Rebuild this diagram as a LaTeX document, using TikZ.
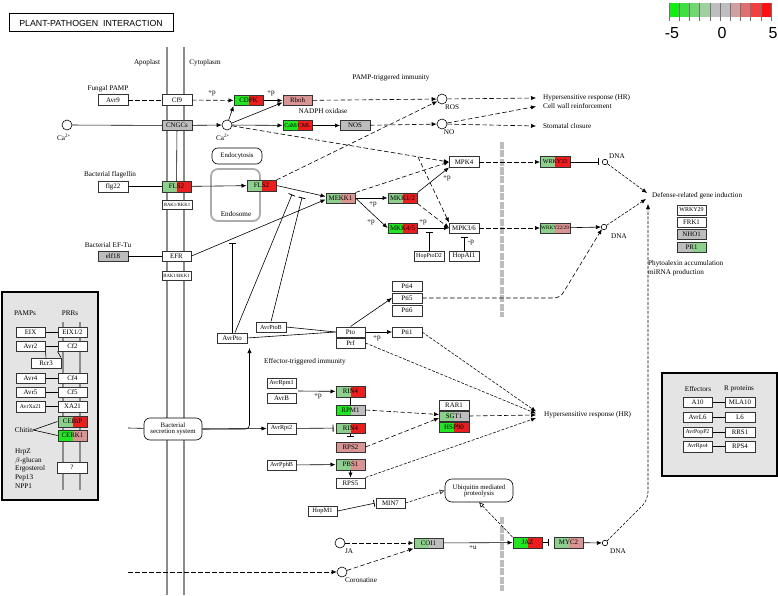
\documentclass[tikz,border=0pt]{standalone}
\usepackage{fontspec}
\setmainfont{Liberation Serif}
\newfontfamily\lsans{Liberation Sans}
\usetikzlibrary{arrows.meta}
\newcommand{\myfs}[1]{\fontsize{#1}{#1}\selectfont}
\definecolor{gA}{HTML}{22E622}
\definecolor{gB}{HTML}{8DCF8D}
\definecolor{rA}{HTML}{EA1E1E}
\definecolor{rB}{HTML}{D99494}
\definecolor{gy}{HTML}{BDBDBD}
\definecolor{mem}{HTML}{8C8C8C}
\definecolor{boxbg}{HTML}{E4E4E4}
\definecolor{lg0}{HTML}{10F010}
\definecolor{lg1}{HTML}{40E040}
\definecolor{lg2}{HTML}{70D870}
\definecolor{lg3}{HTML}{A0D0A0}
\definecolor{lg4}{HTML}{BEBEBE}
\definecolor{lg5}{HTML}{BEBEBE}
\definecolor{lg6}{HTML}{D0A0A0}
\definecolor{lg7}{HTML}{E07070}
\definecolor{lg8}{HTML}{F04040}
\definecolor{lg9}{HTML}{FF1010}
\begin{document}
\begin{tikzpicture}[x=1pt,y=-1pt,
  gene/.style={draw=black!80, line width=0.5pt, fill=white, minimum width=29.5pt, minimum height=10.5pt, inner sep=0pt, font=\myfs{6.9}},
  sm/.style={font=\myfs{5.8}},
  xs/.style={font=\myfs{4.8}},
  two/.style 2 args={path picture={
     \fill[#1] (path picture bounding box.south west) rectangle (path picture bounding box.north);
     \fill[#2] (path picture bounding box.south) rectangle (path picture bounding box.north east);}},
  txt/.style={inner sep=0pt, font=\myfs{7.2}},
  cpd/.style={circle, draw, fill=white, minimum size=10pt, inner sep=0pt, line width=0.6pt},
  dna/.style={circle, draw, fill=white, minimum size=5.5pt, inner sep=0pt, line width=0.6pt},
  ln/.style={line width=0.6pt},
  dsh/.style={line width=0.6pt, dash pattern=on 4.5pt off 2.5pt},
  fdsh/.style={line width=0.55pt, dash pattern=on 3pt off 1.5pt},
  arr/.style={-{Latex[length=5pt,width=4.2pt]}},
  inh/.style={-{Bar[width=7pt,line width=0.8pt]}},
  oarr/.style={-{Latex[open,length=5pt,width=5pt]}},
  memb/.style={line width=2.7pt, draw=mem},
  nucm/.style={line width=4pt, draw=gy, dash pattern=on 7pt off 1.5pt},
  rbox/.style={draw, line width=0.6pt, fill=white, rounded corners=6pt, inner sep=1pt, align=center, font=\myfs{6.8}}
]
\useasboundingbox (0,0) rectangle (778,596);

% legend
\foreach \i in {0,...,9} {\fill[lg\i] ({669+\i*10.2},3) rectangle ({669+(\i+1)*10.2},17);}
\foreach \i in {0,...,10} {\draw[black!55, line width=0.4pt] ({669+\i*10.2},3) -- ({669+\i*10.2},21);}
\node[inner sep=0pt, font=\lsans\myfs{16}] (lm5) at (672,33) {-5};
\node[inner sep=0pt, font=\lsans\myfs{16}] (l0) at (722,33) {0};
\node[inner sep=0pt, font=\lsans\myfs{16}] (l5) at (773,33) {5};

% title
\node[draw, line width=1pt, minimum width=164pt, minimum height=18pt, inner sep=0pt, font=\lsans\myfs{8.8}] (title) at (91,23) {PLANT-PATHOGEN~~INTERACTION};

% membranes
\draw[memb] (167,47) -- (167,595);
\draw[memb] (184,47) -- (184,595);
\node[txt] at (147,63) {Apoplast};
\node[txt] at (205,63) {Cytoplasm};

% nuclear membrane
\draw[nucm] (502,142) -- (502,317);
\draw[nucm] (502,517) -- (502,591);

% left box
\fill[boxbg] (2,292) rectangle (98,500);
\draw[line width=1.4pt] (2,292) rectangle (98,500);
\draw[memb, line width=2.4pt] (63,322) -- (63,490);
\draw[memb, line width=2.4pt] (80,322) -- (80,490);
\node[txt] at (25,313) {PAMPs};
\node[txt] at (70,313) {PRRs};
\node[gene] (eix) at (30.5,332) {EIX};
\node[gene] (eix12) at (72.5,332) {EIX1/2};
\node[gene] (avr2) at (30.5,346) {Avr2};
\node[gene] (cf2) at (72.5,346) {Cf2};
\node[gene] (rcr3) at (46,363) {Rcr3};
\node[gene] (avr4) at (30.5,378) {Avr4};
\node[gene] (cf4) at (72.5,378) {Cf4};
\node[gene] (avr5) at (30.5,392) {Avr5};
\node[gene] (cf5) at (72.5,392) {Cf5};
\node[gene,sm] (avrxa) at (30.5,406.5) {AvrXa21};
\node[gene] (xa21) at (72.5,406.5) {XA21};
\node[gene,two={gB}{rA}] (cebip) at (72.5,421.5) {CEBiP};
\node[gene,two={gA}{rB}] (cerk1) at (72.5,435.5) {CERK1};
\node[txt] (chitin) at (24,430) {Chitin};
\node[gene] (qbox) at (72,467.5) {?};
\node[txt,anchor=west] at (15,452) {HrpZ};
\node[txt,anchor=west] at (15,460.5) {$\beta$-glucan};
\node[txt,anchor=west] at (15,469) {Ergosterol};
\node[txt,anchor=west] at (15,477.5) {Pep13};
\node[txt,anchor=west] at (15,486) {NPP1};
\draw[ln] (eix) -- (eix12);
\draw[ln] (avr2) -- (cf2);
\draw[ln] (avr2.south east) -- (rcr3.north);
\draw[ln] (cf2.south west) -- (rcr3.north east);
\draw[ln] (avr4) -- (cf4);
\draw[ln] (avr5) -- (cf5);
\draw[ln] (avrxa) -- (xa21);
\draw[ln] (chitin.east) -- (cebip.west);
\draw[ln] (chitin.east) -- (cerk1.west);

% right box
\fill[boxbg] (662,373) rectangle (777,476);
\draw[line width=1.4pt] (662,373) rectangle (777,476);
\node[txt] at (698,389) {Effectors};
\node[txt] at (739,389) {R proteins};
\node[gene] (a10) at (697.5,402) {A10};
\node[gene] (mla10) at (740,402) {MLA10};
\node[gene] (avrl6) at (697.5,417) {AvrL6};
\node[gene] (l6) at (740,417) {L6};
\node[gene,sm] (avrpop) at (697.5,432) {AvrPopP2};
\node[gene] (rrs1) at (740,432) {RRS1};
\node[gene,sm] (avrrps4) at (697.5,446.5) {AvrRps4};
\node[gene] (rps4) at (740,446.5) {RPS4};
\draw[ln] (a10) -- (mla10);
\draw[ln] (avrl6) -- (l6);
\draw[ln] (avrpop) -- (rrs1);
\draw[ln] (avrrps4) -- (rps4);

% top part
\node[txt] at (108,89) {Fungal PAMP};
\node[gene] (avr9) at (113,100) {Avr9};
\node[gene] (cf9) at (177,100) {Cf9};
\node[gene,two={gA}{rA}] (cdpk) at (248.5,100.5) {CDPK};
\node[gene,fill=rB] (rboh) at (297.5,100.5) {Rboh};
\node[txt] at (212,93) {+p};
\node[txt] at (271,93) {+p};
\node[cpd] (ca1) at (67,125) {};
\node[txt] at (64,137) {Ca\textsuperscript{2+}};
\node[gene,fill=gy] (cngc) at (177,125.5) {CNGCs};
\node[cpd] (ca2) at (227,125) {};
\node[txt] at (223,137) {Ca\textsuperscript{2+}};
\node[gene,two={gA}{rA},font=\myfs{5.9}] (cam) at (297.5,125.5) {CaM/CML};
\node[gene,fill=gy] (nos) at (355,125.5) {NOS};
\node[txt] at (323,111) {NADPH oxidase};
\node[txt] at (391,78) {PAMP-triggered immunity};
\node[cpd] (ros) at (442,99) {};
\node[txt] at (452,107) {ROS};
\node[cpd] (no) at (442,124) {};
\node[txt] at (449,132) {NO};
\node[txt,anchor=west] (hr1) at (543,98) {Hypersensitive response (HR)};
\node[txt,anchor=west] (cwr) at (543,106.5) {Cell wall reinforcement};
\node[txt,anchor=west] (stc) at (543,126) {Stomatal closure};

\draw[dsh] (avr9) -- (cf9);
\draw[dsh,arr] (cf9) -- (cdpk);
\draw[ln] (ca1) -- (cngc);
\draw[ln,arr] (cngc) -- (ca2);
\draw[ln,arr] (ca2) -- (cdpk.south west);
\draw[ln,arr] (ca2) -- ([yshift=-2pt]rboh.west);
\draw[ln,arr] (cdpk) -- (rboh);
\draw[ln,arr] (ca2) -- (cam);
\draw[ln,arr] (cam) -- (nos);
\draw[dsh,arr] (rboh) -- (ros);
\draw[dsh,arr] (nos) -- (no);
\draw[dsh,arr] (ros) -- ([xshift=-7pt]hr1.west);
\draw[dsh,arr] (no) -- ([xshift=-7pt]cwr.west);
\draw[dsh,arr] (no) -- ([xshift=-7pt]stc.west);

% flagellin
\node[rbox,minimum width=50pt,minimum height=16pt] (endo) at (237,156) {Endocytosis};
\node[draw=gray!65, line width=1.8pt, rounded corners=7pt, minimum width=49pt, minimum height=52pt] (endsm) at (235.5,195) {};
\node[txt] at (236,214) {Endosome};
\node[txt] at (110,175) {Bacterial flagellin};
\node[gene] (flg22) at (113,186.5) {flg22};
\node[gene,two={gB}{rA}] (fls2a) at (176.5,186.5) {FLS2};
\node[gene,two={gB}{rA}] (fls2b) at (261.5,185.5) {FLS2};
\node[gene,xs,minimum height=9pt] (bak1) at (177,205) {BAK1/BKK1};
\draw[ln] (cngc) -- (fls2a);
\draw[ln] (flg22) -- (fls2a);
\draw[ln,arr] (fls2a) -- (fls2b);

\node[txt] at (108,245) {Bacterial EF-Tu};
\node[gene,fill=gy] (elf18) at (113,256) {elf18};
\node[gene] (efr) at (176.5,256) {EFR};
\node[gene,xs,minimum height=9pt] (bak2) at (176.5,275.5) {BAK1/BKK1};
\draw[ln] (elf18) -- (efr);

% MAPK cascade
\node[gene,two={gB}{rB}] (mekk1) at (340.5,198) {MEKK1};
\node[gene,two={gB}{rA}] (mkk12) at (402.5,198) {MKK1/2};
\node[gene,two={gA}{rA}] (mkk45) at (402.5,228) {MKK4/5};
\node[gene] (mpk4) at (464,162) {MPK4};
\node[gene] (mpk36) at (464,228) {MPK3/6};
\node[gene,font=\myfs{6}] (hoppto) at (429,256) {HopPtoD2};
\node[gene] (hopai) at (464,256) {HopAI1};
\node[txt] at (373,204.5) {+p};
\node[txt] at (371,222) {+p};
\node[txt] at (423,222) {+p};
\node[txt] at (447,178) {+p};
\node[txt] at (471,243) {-p};
\coordinate (brk) at (418,157);
\draw[dsh,arr] (ca2) -- (mpk4.west);
\draw[dsh,arr] (brk) -- (mpk36.north west);
\draw[dsh,arr] (fls2b.north east) -- (ros);
\draw[ln,arr] (fls2b.east) -- ([yshift=1.5pt]mekk1.west);
\draw[ln,arr] (efr.east) -- ([yshift=-1.5pt]mekk1.west);
\draw[ln,arr] (mekk1) -- (mkk12);
\draw[ln,arr] (mekk1.east) -- (mkk45.west);
\draw[dsh,arr] (mekk1.north east) -- (mpk4.west);
\draw[ln,arr] (mkk12.north east) -- (mpk4.south west);
\draw[dsh,arr] (mkk12.south east) -- (mpk36.west);
\draw[ln,arr] (mkk45) -- (mpk36);
\coordinate (bh1) at (429,232);
\coordinate (bh2) at (464,236.5);
\draw[ln,inh] (hoppto) -- (bh1);
\draw[ln,inh] (hopai) -- (bh2);

% transcription
\node[gene,two={gB}{rA},font=\myfs{6}] (wrky33) at (555,162) {WRKY33};
\node[gene,two={gB}{rB},font=\myfs{5.2}] (wrky2229) at (555,228) {WRKY22/29};
\node[dna] (dna1) at (605,162) {};
\node[dna] (dna2) at (604,227) {};
\node[txt] at (617,156) {DNA};
\node[txt] at (619,236) {DNA};
\draw[dsh,arr] (mpk4) -- (wrky33);
\draw[dsh,arr] (mpk36) -- (wrky2229);
\draw[ln,inh,shorten >=3pt] (wrky33) -- (dna1);
\draw[ln,arr] (wrky2229) -- (dna2);
\node[txt,anchor=west] (def) at (652,196) {Defense-related gene induction};
\coordinate (d1) at (647,193);
\coordinate (d2) at (646,199);
\coordinate (d3) at (648,204);
\draw[fdsh,arr] (dna1) -- (d1);
\draw[fdsh,arr] (dna2) -- (d2);
\node[gene,minimum height=10pt,font=\myfs{6}] (wrky29) at (691.5,210) {WRKY29};
\node[gene,minimum height=10pt] (frk1) at (691.5,222.5) {FRK1};
\node[gene,minimum height=10pt,fill=gy] (nho1) at (691.5,234.5) {NHO1};
\node[gene,minimum height=10pt,two={gy}{gB}] (pr1) at (691.5,247) {PR1};
\node[txt,anchor=west] at (648,264) {Phytoalexin accumulation};
\node[txt,anchor=west] at (648,273) {miRNA production};

% Pto pathway
\node[gene] (pti4) at (407,286) {Pti4};
\node[gene] (pti5) at (407,298) {Pti5};
\node[gene] (pti6) at (407,310.5) {Pti6};
\node[gene,font=\myfs{6.2}] (avrptob) at (271,327) {AvrPtoB};
\node[gene] (avrpto) at (232,338) {AvrPto};
\node[gene] (pto) at (350.5,332) {Pto};
\node[gene] (prf) at (350.5,343) {Prf};
\node[gene] (pti1) at (407,332) {Pti1};
\node[txt] at (377,338.5) {+p};
\draw[ln] (avrpto.east) -- (pto.west);
\draw[ln] (avrptob.east) -- (pto.west);
\draw[ln,arr] (pto) -- (pti1);
\draw[ln,arr] (pto.north) -- (pti5.west);
\draw[dsh,arr,rounded corners=6pt] (pti5.east) -- (560,298) -- (dna2.south west);
\coordinate (bE) at (232,242.5);
\coordinate (bF1) at (292,194.5);
\coordinate (bF2) at (302,197.5);
\draw[ln,inh] (avrpto.north) -- (bE);
\draw[ln,inh] ([xshift=3pt]avrpto.north) -- (bF1);
\draw[ln,inh] (avrptob.north) -- (bF2);

% effector-triggered immunity
\node[txt,anchor=west] at (264,362) {Effector-triggered immunity};
\node[gene,font=\myfs{6.2}] (avrrpm1) at (281.5,383) {AvrRpm1};
\node[gene] (avrb) at (281.5,398) {AvrB};
\node[gene,two={gB}{rA}] (rin4a) at (350.5,391.5) {RIN4};
\node[gene,two={gA}{gy}] (rpm1) at (350.5,410) {RPM1};
\node[gene,font=\myfs{6.2}] (avrrpt2) at (281.5,428.5) {AvrRpt2};
\node[gene,two={gB}{rA}] (rin4b) at (350.5,428) {RIN4};
\node[gene,fill=rB] (rps2) at (350.5,447) {RPS2};
\node[gene,font=\myfs{6.2}] (avrpphb) at (281.5,465) {AvrPphB};
\node[gene,two={gB}{rB}] (pbs1) at (350.5,464.5) {PBS1};
\node[gene] (rps5) at (350.5,483) {RPS5};
\node[gene] (rar1) at (454,405) {RAR1};
\node[gene,two={gB}{gy}] (sgt1) at (454,416) {SGT1};
\node[gene,two={gA}{rA}] (hsp90) at (454,427) {HSP90};
\node[txt] at (318,396.5) {+p};
\coordinate (rpmB) at (298,391);
\draw[ln,arr] (rpmB) -- (rin4a);
\draw[ln] (rin4a) -- (rpm1);
\draw[ln,inh,shorten >=2pt] (avrrpt2) -- (rin4b);
\draw[ln,inh,shorten >=4.5pt] (rin4b) -- (rps2);
\draw[ln,arr] (avrpphb) -- (pbs1);
\draw[ln,arr] (pbs1) -- (rps5);
\draw[dsh,arr] (rpm1.east) -- ([yshift=1.5pt]sgt1.west);
\draw[dsh,arr] (rps2.east) -- ([yshift=-2pt]sgt1.west);
\node[txt,anchor=west] (hr2) at (544,415) {Hypersensitive response (HR)};
\draw[fdsh,arr] (pti1.east) -- ([shift={(-8pt,3.5pt)}]hr2.west);
\draw[fdsh,arr] (prf.east) -- ([shift={(-8pt,1.5pt)}]hr2.west);
\draw[dsh,arr] (sgt1.east) -- ([xshift=-8pt]hr2.west);
\draw[fdsh,arr] (rps5.north east) -- ([shift={(-8pt,-3pt)}]hr2.west);

% secretion system
\node[rbox,minimum width=58pt,minimum height=22pt] (sss) at (173,429) {Bacterial\\[-1pt]secretion system};
\coordinate (ssin) at (128,428);
\coordinate (aptin) at (249.5,348);
\draw[ln] (ssin) -- (sss);
\draw[ln,arr] (sss.east) -- (avrrpt2.west);
\draw[ln,arr,rounded corners=4pt] (sss.east) -| (aptin);

% ubiquitin / JA
\node[gene,font=\myfs{6.5}] (hopm1) at (322.5,511) {HopM1};
\node[gene] (min7) at (390.5,503) {MIN7};
\node[rbox,minimum width=68pt,minimum height=23pt,rounded corners=7pt] (ubq) at (479,490.5) {Ubiquitin mediated\\[-1pt]proteolysis};
\draw[ln,inh,shorten >=1pt] (hopm1.east) -- (min7.west);
\draw[fdsh,oarr] (min7.east) -- (ubq.west);
\node[cpd] (ja) at (340,543) {};
\node[txt] at (349,551) {JA};
\node[cpd] (cor) at (342,572) {};
\node[txt] at (361,580) {Coronatine};
\node[gene,two={gB}{gy}] (coi1) at (428.5,543) {COI1};
\node[gene,two={gA}{rA}] (jaz) at (527.5,542.5) {JAZ};
\node[gene,two={gB}{rB}] (myc2) at (568.5,542.5) {MYC2};
\node[dna] (dna3) at (605,543) {};
\node[txt] at (618,551) {DNA};
\node[txt] at (473,547.5) {+u};
\coordinate (corin) at (128,572);
\draw[dsh,arr] (corin) -- (cor);
\draw[dsh,arr] (ja) -- (coi1);
\draw[dsh,arr] (cor) -- (coi1.south west);
\draw[ln,arr] (coi1) -- (jaz);
\draw[fdsh,oarr] (jaz.north west) -- (ubq.south);
\draw[ln,inh,shorten >=5pt] (jaz) -- (myc2);
\draw[ln,arr] (myc2) -- (dna3);
\draw[fdsh,arr,rounded corners=8pt] (dna3) -- (648,500) -- (d3);
\end{tikzpicture}
\end{document}
